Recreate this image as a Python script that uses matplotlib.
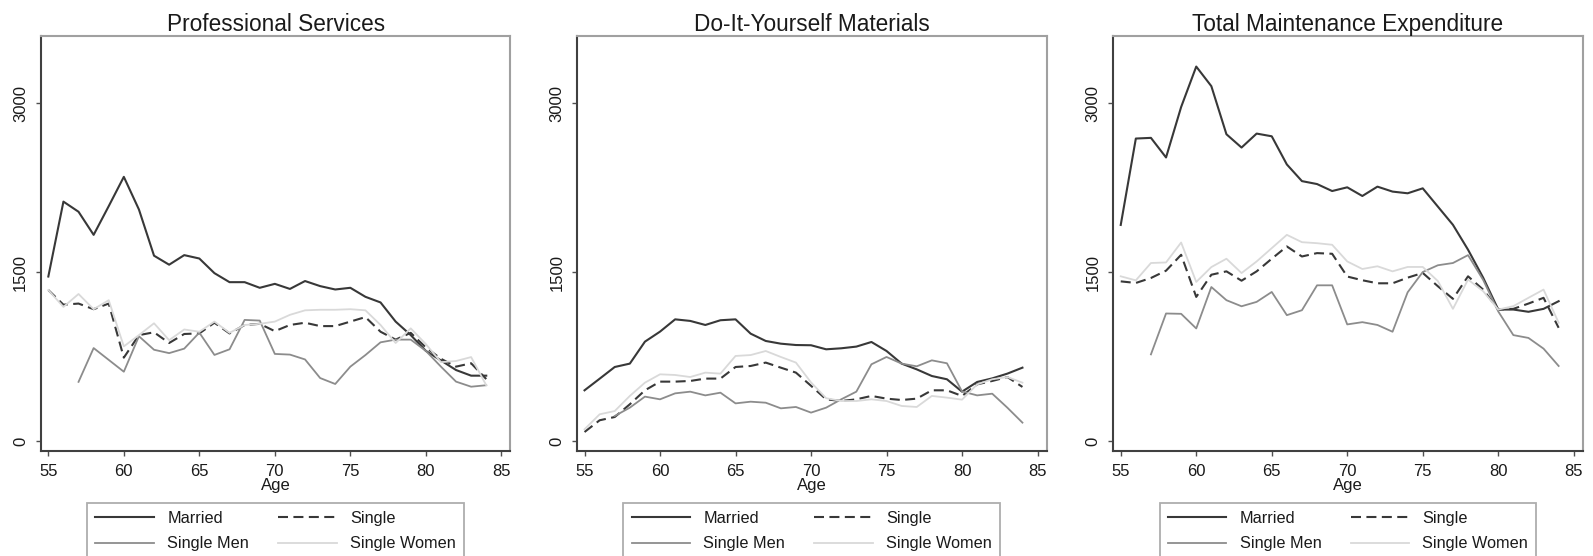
import matplotlib
matplotlib.use("Agg")
import matplotlib.pyplot as plt

plt.rcParams['font.family'] = ['Liberation Sans', 'DejaVu Sans']

ages = list(range(55, 85))
ages_men = list(range(57, 85))

titles = ["Professional Services", "Do-It-Yourself Materials", "Total Maintenance Expenditure"]
legend_labels = ["Married", "Single", "Single Men", "Single Women"]

# Professional Services
prof_married = [1460, 2125, 2035, 1830, 2085, 2345, 2055, 1645, 1565, 1650, 1620, 1490, 1410, 1410, 1360,
                1395, 1350, 1420, 1375, 1345, 1360, 1280, 1230, 1060, 940, 800, 715, 630, 580, 580]
prof_single = [1340, 1210, 1220, 1170, 1220, 740, 940, 965, 870, 950, 955, 1050, 955, 1030, 1040,
               975, 1030, 1050, 1020, 1020, 1060, 1100, 970, 900, 960, 830, 730, 660, 690, 550]
prof_men = [525, 825, 720, 615, 930, 810, 780, 820, 962, 764, 814, 1075, 1069, 773,
            767, 724, 559, 506, 660, 763, 876, 900, 900, 800, 660, 527, 482, 495]
prof_women = [1340, 1190, 1305, 1170, 1250, 840, 940, 1045, 895, 990, 970, 1060, 960, 1030, 1040,
              1060, 1120, 1160, 1165, 1165, 1170, 1160, 1030, 870, 1000, 860, 700, 710, 745, 495]

# Do-It-Yourself Materials
diy_married = [450, 553, 657, 687, 882, 971, 1080, 1066, 1030, 1072, 1080, 953, 888, 864, 852,
               850, 814, 823, 838, 879, 799, 687, 636, 577, 548, 438, 524, 556, 598, 651]
diy_single = [80, 184, 213, 326, 450, 527, 527, 533, 554, 554, 657, 666, 696, 651, 607,
              490, 370, 355, 370, 400, 376, 364, 376, 450, 450, 400, 503, 533, 568, 480]
diy_men = [222, 296, 394, 370, 423, 438, 405, 429, 334, 349, 340, 290, 302, 252,
           296, 370, 438, 681, 746, 687, 663, 716, 690, 440, 405, 420, 296, 163]
diy_women = [104, 237, 266, 400, 518, 592, 586, 568, 607, 598, 755, 763, 799, 746, 696,
             520, 380, 355, 355, 370, 355, 311, 302, 400, 385, 367, 503, 548, 568, 518]

# Total Maintenance Expenditure
tot_married = [1918, 2685, 2691, 2517, 2965, 3324, 3150, 2723, 2605, 2729, 2705, 2455, 2307, 2281, 2219,
               2252, 2175, 2258, 2214, 2199, 2243, 2081, 1919, 1698, 1450, 1167, 1167, 1147, 1173, 1241]
tot_single = [1417, 1403, 1447, 1512, 1653, 1279, 1476, 1506, 1423, 1506, 1618, 1727, 1638, 1668, 1662,
              1460, 1427, 1400, 1400, 1450, 1492, 1374, 1262, 1462, 1344, 1167, 1173, 1220, 1271, 1005]
tot_men = [769, 1132, 1129, 999, 1367, 1250, 1196, 1235, 1323, 1117, 1161, 1382, 1382, 1035,
           1055, 1030, 970, 1320, 1500, 1560, 1580, 1650, 1430, 1150, 940, 915, 820, 666]
tot_women = [1462, 1426, 1580, 1585, 1762, 1412, 1544, 1618, 1491, 1594, 1712, 1830, 1765, 1756, 1742,
             1594, 1527, 1551, 1506, 1545, 1545, 1420, 1173, 1433, 1330, 1167, 1197, 1271, 1344, 1050]

panels = [
    (prof_married, prof_single, prof_men, prof_women),
    (diy_married, diy_single, diy_men, diy_women),
    (tot_married, tot_single, tot_men, tot_women),
]

fig = plt.figure(figsize=(15.93, 5.56), dpi=100)
lefts = [0.0256, 0.3622, 0.6988]

for i, (married, single, men, women) in enumerate(panels):
    ax = fig.add_axes([lefts[i], 0.1888, 0.2948, 0.7464])
    h1, = ax.plot(ages, married, color='#383838', lw=1.5)
    h2, = ax.plot(ages, single, color='#383838', lw=1.5, dashes=(4.8, 2.6))
    h3, = ax.plot(ages_men, men, color='#8c8c8c', lw=1.3)
    h4, = ax.plot(ages, women, color='#d9d9d9', lw=1.3)

    ax.set_xlim(54.5, 85.6)
    ax.set_ylim(-89, 3595)
    ax.set_xticks([55, 60, 65, 70, 75, 80, 85])
    ax.set_yticks([0, 1500, 3000])
    ax.tick_params(length=3.6, width=1, color='#505050', labelsize=12, labelcolor='#1a1a1a')
    ax.tick_params(axis='x', pad=6)
    ax.tick_params(axis='y', pad=5.5)
    for lbl in ax.get_yticklabels():
        lbl.set_rotation(90)
        lbl.set_va('center')

    for side in ['left', 'bottom']:
        ax.spines[side].set_color('#404040')
        ax.spines[side].set_linewidth(1.5)
    for side in ['top', 'right']:
        ax.spines[side].set_color('#a0a0a0')
        ax.spines[side].set_linewidth(1.5)

    ax.set_title(titles[i], fontsize=16.3, color='#1a1a1a', pad=2)
    ax.set_xlabel('Age', fontsize=12, color='#1a1a1a', labelpad=-1)

    # legend fills row by row: Married, Single / Single Men, Single Women
    leg = ax.legend([h1, h3, h2, h4],
                    [legend_labels[0], legend_labels[2], legend_labels[1], legend_labels[3]],
                    loc='upper center', bbox_to_anchor=(0.5, -0.1253), ncol=2,
                    fontsize=11.7, frameon=True, fancybox=False, borderaxespad=0,
                    handlelength=3.6, handletextpad=0.82, columnspacing=1.8,
                    borderpad=0.5, labelspacing=0.62)
    leg.get_frame().set_edgecolor('#999999')
    leg.get_frame().set_linewidth(1.3)
    for t in leg.get_texts():
        t.set_color('#1a1a1a')

fig.savefig('out.png', dpi=100)
